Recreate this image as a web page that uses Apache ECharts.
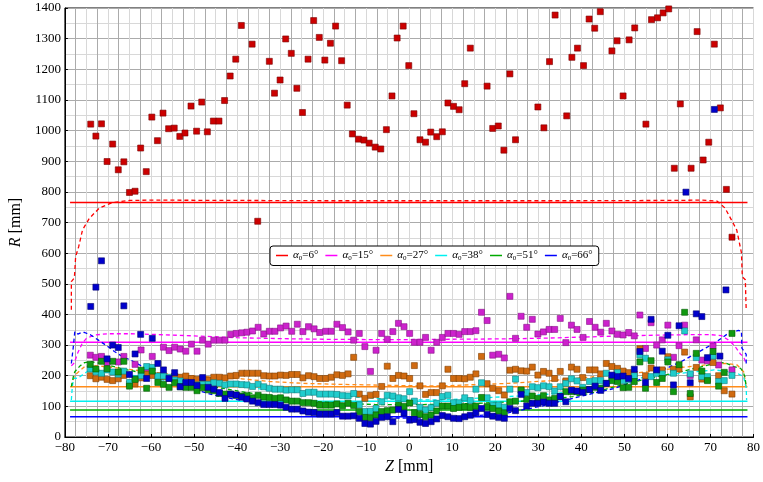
<!DOCTYPE html>
<html><head><meta charset="utf-8">
<script src="https://cdn.jsdelivr.net/npm/echarts@6/dist/echarts.min.js"></script>
<style>html,body{margin:0;padding:0;background:#fff}#c{width:763px;height:482px}</style>
</head><body><div id="c"></div>
<script>
const angles = [6, 15, 27, 38, 51, 66];
const levels = [765, 309, 164, 117, 88, 66];
const levelZ = [-78.8, 78.6];
const xTicks = [-80, -70, -60, -50, -40, -30, -20, -10, 0, 10, 20, 30, 40, 50, 60, 70, 80];

const ptsRed = [[-74.0,1021],[-72.8,982],[-71.5,1022],[-70.2,899],[-68.9,956],[-67.6,872],[-66.3,898],[-65.0,798],[-63.7,802],[-62.4,943],[-61.1,866],[-59.8,1044],[-58.5,967],[-57.2,1057],[-55.9,1006],[-54.6,1008],[-53.3,981],[-52.1,992],[-50.7,1080],[-49.4,998],[-48.2,1093],[-46.9,996],[-45.5,1031],[-44.2,1031],[-42.9,1098],[-41.6,1178],[-40.3,1233],[-39.0,1343],[-36.5,1282],[-35.2,704],[-32.5,1226],[-31.3,1122],[-30.0,1165],[-28.7,1299],[-27.4,1252],[-26.1,1138],[-24.8,1059],[-23.5,1233],[-22.2,1359],[-20.9,1304],[-19.6,1230],[-18.3,1285],[-17.1,1341],[-15.7,1228],[-14.4,1083],[-13.2,989],[-11.8,972],[-10.5,969],[-9.3,959],[-7.9,946],[-6.6,940],[-5.3,1003],[-4.0,1113],[-2.8,1302],[-1.4,1341],[-0.1,1212],[1.1,1055],[2.5,970],[3.8,962],[5.0,995],[6.4,980],[7.7,996],[9.0,1090],[10.3,1079],[11.6,1068],[12.9,1153],[14.2,1269],[18.1,1145],[19.4,1007],[20.7,1015],[22.0,936],[23.4,1185],[24.7,970],[29.9,1077],[31.3,1009],[32.6,1225],[33.9,1377],[36.6,1048],[37.8,1239],[39.1,1269],[40.5,1212],[41.8,1364],[43.1,1334],[44.4,1388],[47.1,1260],[48.3,1293],[49.7,1113],[51.1,1296],[52.4,1335],[55.0,1021],[56.3,1362],[57.7,1368],[59.0,1384],[60.3,1397],[61.6,877],[63.0,1087],[65.5,877],[66.9,1323],[68.3,904],[69.6,962],[70.9,1282],[72.3,1074],[73.7,808],[75.0,652]];

const ptsMagenta = [[-74.1,267],[-72.8,260],[-71.5,263],[-70.2,243],[-67.6,245],[-66.3,263],[-63.7,237],[-62.3,284],[-61.0,219],[-59.7,263],[-57.1,293],[-55.8,282],[-54.5,293],[-53.2,287],[-51.9,280],[-50.6,303],[-49.3,280],[-48.0,316],[-46.7,303],[-45.4,316],[-44.1,316],[-42.8,316],[-41.5,335],[-40.2,338],[-38.9,340],[-37.7,342],[-36.4,346],[-35.1,358],[-33.8,336],[-32.5,345],[-31.2,345],[-29.9,356],[-28.6,362],[-27.3,345],[-26.0,368],[-24.7,344],[-23.4,360],[-22.1,353],[-20.8,341],[-19.4,345],[-18.1,345],[-16.8,368],[-15.5,357],[-14.2,343],[-12.9,316],[-11.6,338],[-10.3,295],[-9.0,214],[-7.7,283],[-6.4,338],[-5.1,319],[-3.8,344],[-2.5,371],[-1.2,360],[0.1,338],[1.2,309],[2.5,309],[3.8,325],[5.1,283],[6.4,309],[7.7,325],[9.0,338],[10.3,338],[11.6,335],[12.9,344],[14.2,344],[15.5,347],[16.8,407],[18.1,380],[19.4,267],[20.8,270],[22.1,258],[23.4,459],[24.7,322],[26.0,394],[27.3,358],[28.6,384],[29.9,336],[31.2,343],[32.5,351],[33.8,351],[35.1,387],[36.4,308],[37.7,365],[39.0,351],[40.4,325],[41.9,377],[43.2,358],[44.5,342],[45.8,371],[47.1,346],[48.4,335],[49.7,333],[51.0,341],[52.3,330],[53.6,398],[54.9,289],[56.2,373],[57.5,300],[58.8,317],[60.1,365],[61.4,260],[62.7,298],[64.0,365],[65.3,201],[66.7,317],[68.0,251],[69.3,249],[70.6,297],[71.9,235],[75.0,219]];

const ptsOrange = [[-74.1,200],[-72.8,190],[-71.5,195],[-70.2,188],[-68.9,184],[-67.6,190],[-66.3,201],[-65.0,173],[-63.7,173],[-62.3,193],[-61.0,205],[-59.7,201],[-58.4,199],[-57.1,197],[-55.8,191],[-54.5,198],[-53.2,195],[-51.9,199],[-50.6,191],[-49.3,188],[-48.0,188],[-46.7,186],[-45.4,195],[-44.1,195],[-42.8,193],[-41.5,199],[-40.2,201],[-38.9,208],[-37.7,208],[-36.4,208],[-35.1,208],[-33.8,200],[-32.5,199],[-31.2,199],[-29.9,202],[-28.6,201],[-27.3,204],[-26.0,204],[-24.7,193],[-23.4,200],[-22.1,197],[-20.8,191],[-19.4,191],[-18.1,195],[-16.8,203],[-15.5,201],[-14.2,206],[-12.9,260],[-11.6,140],[-10.3,126],[-9.0,136],[-7.7,139],[-6.4,165],[-5.1,231],[-3.8,191],[-2.5,201],[-1.2,199],[0.1,191],[1.2,233],[2.5,167],[3.8,139],[5.1,145],[6.4,145],[7.7,167],[9.0,221],[10.3,191],[11.6,191],[12.9,190],[14.2,195],[15.5,206],[16.8,263],[18.1,174],[19.4,159],[20.8,151],[22.1,137],[23.4,218],[24.7,221],[26.0,216],[27.3,215],[28.6,228],[29.9,202],[31.2,214],[32.5,208],[33.8,191],[35.1,214],[36.4,183],[37.7,228],[39.0,221],[40.3,194],[41.9,219],[43.2,219],[44.5,206],[45.8,240],[47.1,230],[48.4,224],[49.7,215],[51.0,210],[52.3,205],[53.6,288],[54.9,200],[56.2,225],[57.5,215],[58.8,219],[60.1,262],[61.4,221],[62.7,222],[64.0,277],[65.3,131],[66.7,227],[68.0,189],[69.3,188],[70.6,243],[71.9,200],[73.2,151],[75.0,140]];

const ptsCyan = [[-74.1,222],[-72.8,213],[-71.5,208],[-70.2,219],[-68.9,212],[-67.6,205],[-66.3,215],[-65.0,178],[-63.7,190],[-62.3,200],[-61.0,230],[-59.7,227],[-58.4,199],[-57.1,199],[-55.8,195],[-54.5,186],[-53.2,183],[-51.9,175],[-50.6,174],[-49.3,170],[-48.0,172],[-46.7,172],[-45.4,177],[-44.1,175],[-42.8,170],[-41.5,173],[-40.2,173],[-38.9,171],[-37.7,170],[-36.4,165],[-35.1,172],[-33.8,164],[-32.5,159],[-31.2,156],[-29.9,156],[-28.6,153],[-27.3,154],[-26.0,154],[-24.7,142],[-23.4,146],[-22.1,146],[-20.8,140],[-19.4,140],[-18.1,140],[-16.8,139],[-15.5,135],[-14.2,134],[-12.9,142],[-11.6,105],[-10.3,83],[-9.0,84],[-7.7,93],[-6.4,115],[-5.1,136],[-3.8,134],[-2.5,128],[-1.2,125],[0.1,148],[1.2,117],[2.5,97],[3.8,88],[5.1,96],[6.4,110],[7.7,132],[9.0,136],[10.3,112],[11.6,112],[12.9,128],[14.2,119],[15.5,156],[16.8,177],[18.1,128],[19.4,104],[20.8,104],[22.1,97],[23.4,156],[24.7,189],[26.0,153],[27.3,145],[28.6,164],[29.9,161],[31.2,167],[32.5,164],[33.8,150],[35.1,164],[36.4,175],[37.7,190],[39.0,183],[40.3,162],[41.9,181],[43.2,184],[44.5,184],[45.8,208],[47.1,191],[48.4,210],[49.7,184],[51.0,187],[52.3,200],[53.6,268],[54.9,257],[56.2,197],[57.5,208],[58.8,206],[60.1,252],[61.4,208],[64.0,346],[65.3,206],[66.7,259],[68.0,197],[69.3,197],[70.6,264],[71.9,181],[73.2,184],[75.0,201]];

const ptsGreen = [[-74.1,237],[-72.8,222],[-71.5,247],[-70.2,223],[-68.9,247],[-67.6,212],[-66.3,247],[-65.0,166],[-63.7,188],[-62.3,218],[-61.0,159],[-59.7,215],[-58.4,178],[-57.1,172],[-55.8,162],[-54.5,177],[-53.2,164],[-51.9,162],[-50.6,162],[-49.3,151],[-48.0,161],[-46.7,154],[-45.4,151],[-44.1,142],[-42.8,140],[-41.5,140],[-40.2,136],[-38.9,134],[-37.7,135],[-36.4,128],[-35.1,136],[-33.8,130],[-32.5,129],[-31.2,126],[-29.9,128],[-28.6,121],[-27.3,117],[-26.0,117],[-24.7,112],[-23.4,112],[-22.1,110],[-20.8,104],[-19.4,104],[-18.1,104],[-16.8,108],[-15.5,102],[-14.2,110],[-12.9,103],[-11.6,83],[-10.3,64],[-9.0,63],[-7.7,72],[-6.4,83],[-5.1,86],[-3.8,88],[-2.5,104],[-1.2,100],[0.1,111],[1.2,79],[2.5,74],[3.8,66],[5.1,72],[6.4,85],[7.7,101],[9.0,101],[10.3,93],[11.6,97],[12.9,99],[14.2,97],[15.5,101],[16.8,129],[18.1,99],[19.4,93],[20.8,85],[22.1,79],[23.4,115],[24.7,117],[26.0,153],[27.3,123],[28.6,134],[29.9,126],[31.2,135],[32.5,121],[33.8,126],[35.1,132],[36.4,148],[37.7,148],[39.0,148],[40.3,153],[41.9,155],[43.2,162],[44.5,159],[45.8,175],[47.1,184],[48.4,181],[49.7,161],[51.0,162],[52.3,181],[53.6,245],[54.9,159],[56.2,249],[57.5,178],[58.8,191],[60.1,245],[61.4,148],[62.7,236],[64.0,407],[65.3,142],[66.7,273],[68.0,215],[69.3,184],[70.6,279],[71.9,166],[73.2,211],[75.0,338]];

const ptsBlue = [[-74.0,426],[-72.8,489],[-71.5,575],[-70.2,255],[-68.9,300],[-67.6,292],[-66.3,428],[-65.0,204],[-63.7,271],[-62.4,335],[-61.0,191],[-59.7,322],[-58.4,240],[-57.1,219],[-55.8,191],[-54.5,210],[-53.2,164],[-51.9,178],[-50.6,178],[-49.3,168],[-48.0,194],[-46.7,162],[-45.4,156],[-44.1,145],[-42.8,126],[-41.5,140],[-40.2,137],[-38.9,130],[-37.7,124],[-36.4,117],[-35.1,112],[-33.8,106],[-32.5,106],[-31.2,106],[-29.9,104],[-28.6,97],[-27.3,91],[-26.0,91],[-24.7,85],[-23.4,81],[-22.1,80],[-20.8,75],[-19.4,75],[-18.1,75],[-16.8,80],[-15.5,68],[-14.2,68],[-12.9,69],[-11.6,61],[-10.3,44],[-9.0,42],[-7.7,51],[-6.4,64],[-5.1,66],[-3.8,50],[-2.5,90],[-1.2,78],[0.1,55],[1.2,57],[2.5,48],[3.8,44],[5.1,50],[6.4,59],[7.7,70],[9.0,66],[10.3,61],[11.6,60],[12.9,66],[14.2,71],[15.5,79],[16.8,93],[18.1,74],[19.4,68],[20.8,64],[22.1,61],[23.4,93],[24.7,86],[26.0,139],[27.3,101],[28.6,110],[29.9,110],[31.2,114],[32.5,110],[33.8,110],[35.1,132],[36.4,115],[37.7,153],[39.0,150],[40.3,146],[41.9,155],[43.2,166],[44.5,152],[45.8,175],[47.1,202],[48.4,197],[49.7,199],[51.0,191],[52.3,221],[53.6,279],[54.9,178],[56.2,384],[57.5,219],[58.8,280],[60.1,332],[61.4,170],[62.7,363],[64.3,799],[65.3,177],[66.7,402],[68.0,393],[69.3,259],[70.9,1069],[72.2,264],[73.6,480]];

const dashRed = [[-78.5,415],[-78.5,507],[-77.8,519],[-77.5,589],[-76.8,621],[-75.9,676],[-74.3,714],[-72,747],[-69,765],[-65,772],[-60,773],[-40,772],[-20,771],[0,771],[20,771],[40,771],[60,772],[68,773],[71.5,770],[73.4,747],[76.1,676],[77.2,601],[77.4,523],[78.1,513],[78.3,415]];
const dashMagenta = [[-78.5,232],[-77.8,242],[-77,275],[-76,305],[-75,322],[-73,333],[-70,337],[-65,337],[-60,335],[-50,330],[-40,324],[-30,321],[-20,319],[-10,318],[0,318],[10,319],[20,320],[30,322],[40,326],[50,330],[60,333],[66,334],[70,334],[72.5,331],[74,318],[75.5,300],[77,270],[77.7,262],[78.3,238]];
const dashOrange = [[-78.5,164],[-78,190],[-77.7,202],[-75.4,230],[-73.9,234],[-68.5,227],[-60.8,213],[-53.1,202],[-45.5,195],[-38.9,190],[-32.3,181],[-24.6,175],[-16.9,172],[-9.2,170],[1.5,167],[7.8,167],[23.1,175],[33,184],[41.6,195],[47.8,202],[55.5,213],[63.2,227],[70.9,238],[73.9,240],[76.2,235],[77.7,213],[78.3,164]];
const dashCyan = [[-78.5,121],[-78.3,160],[-78,191],[-77,192],[-75.4,208],[-73.9,221],[-70.8,213],[-64.7,202],[-57,186],[-49.3,175],[-38.9,164],[-32.3,153],[-16.9,134],[-1.6,121],[7.8,121],[23.1,132],[33,140],[38.5,150],[47.8,178],[55.5,197],[63.2,208],[70.9,219],[73.9,214],[76.2,208],[77.7,197],[78.3,160],[78.4,121]];
const dashGreen = [[-78.5,164],[-78,200],[-77.7,213],[-76.5,232],[-75.4,243],[-73.9,246],[-70,235],[-66.2,221],[-60.8,206],[-53.1,186],[-45.5,164],[-38.9,148],[-32,132],[-24,118],[-16,110],[-8,106],[0,105],[8,107],[16,110],[24,115],[32,122],[38,132],[42,142],[47.8,164],[55.5,191],[63.2,213],[70.9,240],[73.2,243],[75.5,230],[77,224],[77.5,215],[78,197],[78.3,165]];
const dashBlue = [[-78.5,240],[-78,300],[-77.7,344],[-77,336],[-76,342],[-75.4,341],[-74,333],[-72.3,317],[-70,295],[-68.5,279],[-66.6,262],[-64.7,251],[-60.8,221],[-57,195],[-53.1,172],[-49.3,153],[-45.5,137],[-41.6,126],[-38.9,119],[-32.3,104],[-24.6,88],[-16.9,75],[-9.3,66],[-3,62],[3,62],[9,64],[16,70],[23,79],[30.8,101],[38.5,128],[47.8,159],[55.5,197],[63.2,246],[70.9,306],[73.9,336],[76.5,348],[77.2,345],[77.3,290],[78.3,270],[78.3,232]];

const lineColors = ['#ff0000', '#ff00ff', '#ff8c1a', '#00f0f0', '#00aa00', '#0000ff'];
const dotFill = ['#cc0000', '#cc22cc', '#d06a10', '#20cccc', '#119911', '#0000cc'];
const dotEdge = ['#7a0000', '#881188', '#804000', '#0e7f7f', '#005a00', '#000077'];
const pts = [ptsRed, ptsMagenta, ptsOrange, ptsCyan, ptsGreen, ptsBlue];
const dashes = [dashRed, dashMagenta, dashOrange, dashCyan, dashGreen, dashBlue];

const legendNames = angles.map(a => 'α0=' + a + '°');
const series = [];
angles.forEach((a, i) => {
  series.push({
    name: legendNames[i], type: 'line', showSymbol: false, symbol: 'none', z: 2,
    data: levelZ.map(z => [z, levels[i]]),
    lineStyle: { color: lineColors[i], width: 1.5 }, itemStyle: { color: lineColors[i] },
    silent: true
  });
  series.push({
    name: 'dash' + i, type: 'line', showSymbol: false, symbol: 'none', z: 2,
    data: dashes[i], smooth: false,
    lineStyle: { color: lineColors[i], width: 1.3, type: [4, 3] }, silent: true
  });
});
angles.forEach((a, i) => {
  series.push({
    name: 'pts' + i, type: 'scatter', symbol: 'rect', symbolSize: 6, z: 3,
    data: pts[i],
    itemStyle: { color: dotFill[i], borderColor: dotEdge[i], borderWidth: 0.6, opacity: 1 },
    silent: true
  });
});

const serif = 'Liberation Serif';
const gridDark = '#ababab';
const gridLight = '#d8d8d8';
const chart = echarts.init(document.getElementById('c'), null, { renderer: 'canvas' });
chart.setOption({
  animation: false,
  backgroundColor: '#fff',
  grid: { left: 62, right: 6, top: 8, bottom: 45, show: true, borderColor: '#000', borderWidth: 1, backgroundColor: 'transparent' },
  legend: {
    data: legendNames, left: 270, top: 246, orient: 'horizontal',
    icon: 'rect', itemWidth: 12, itemHeight: 1.5, itemGap: 7,
    padding: [4, 6, 4, 6],
    backgroundColor: '#fff', borderColor: '#000', borderWidth: 1, borderRadius: 3,
    formatter: n => '{a|α}{s|0}{b|=' + n.split('=')[1] + '}',
    textStyle: {
      fontFamily: serif, fontSize: 11, color: '#000',
      rich: {
        a: { fontFamily: serif, fontStyle: 'italic', fontSize: 11, color: '#000' },
        s: { fontFamily: serif, fontSize: 7, color: '#000', verticalAlign: 'bottom', padding: [5, 0, 0, 0] },
        b: { fontFamily: serif, fontSize: 11, color: '#000' }
      }
    }
  },
  xAxis: [{
    type: 'value', min: -80, max: 80, interval: 2.5,
    name: '{i|Z} [mm]', nameLocation: 'middle', nameGap: 21,
    nameTextStyle: { fontFamily: serif, fontSize: 16, color: '#000', rich: { i: { fontFamily: serif, fontStyle: 'italic', fontSize: 16, color: '#000' } } },
    axisLine: { onZero: false, lineStyle: { color: '#000', width: 1 } },
    axisTick: { show: false },
    axisLabel: {
      fontFamily: serif, fontSize: 13, color: '#000', margin: 4, showMinLabel: true, showMaxLabel: true,
      formatter: v => xTicks.includes(v) ? (v < 0 ? '\u2212' + (-v) : String(v)) : ''
    },
    splitLine: { show: true, showMinLine: true, showMaxLine: true, lineStyle: { color: [gridLight, gridDark], width: 1 } }
  }, {
    type: 'value', min: -80, max: 80, interval: 10, position: 'bottom',
    axisLine: { show: false }, axisLabel: { show: false }, splitLine: { show: false },
    axisTick: { show: true, inside: true, length: 3, lineStyle: { color: '#000' } }
  }],
  yAxis: {
    type: 'value', min: 0, max: 1400, interval: 100,
    name: '{i|R} [mm]', nameLocation: 'middle', nameGap: 30, nameRotate: 90,
    nameTextStyle: { fontFamily: serif, fontSize: 16, color: '#000', rich: { i: { fontFamily: serif, fontStyle: 'italic', fontSize: 16, color: '#000' } } },
    axisLine: { show: true, onZero: false, lineStyle: { color: '#000', width: 1 } },
    axisTick: { show: true, inside: true, length: 3, lineStyle: { color: '#000' } },
    axisLabel: { fontFamily: serif, fontSize: 13, color: '#000', margin: 4, formatter: v => String(v) },
    splitLine: { show: true, lineStyle: { color: gridDark, width: 1 } },
    minorTick: { show: false, splitNumber: 2 },
    minorSplitLine: { show: true, lineStyle: { color: gridLight, width: 1 } }
  },
  series: series
});
</script></body></html>
